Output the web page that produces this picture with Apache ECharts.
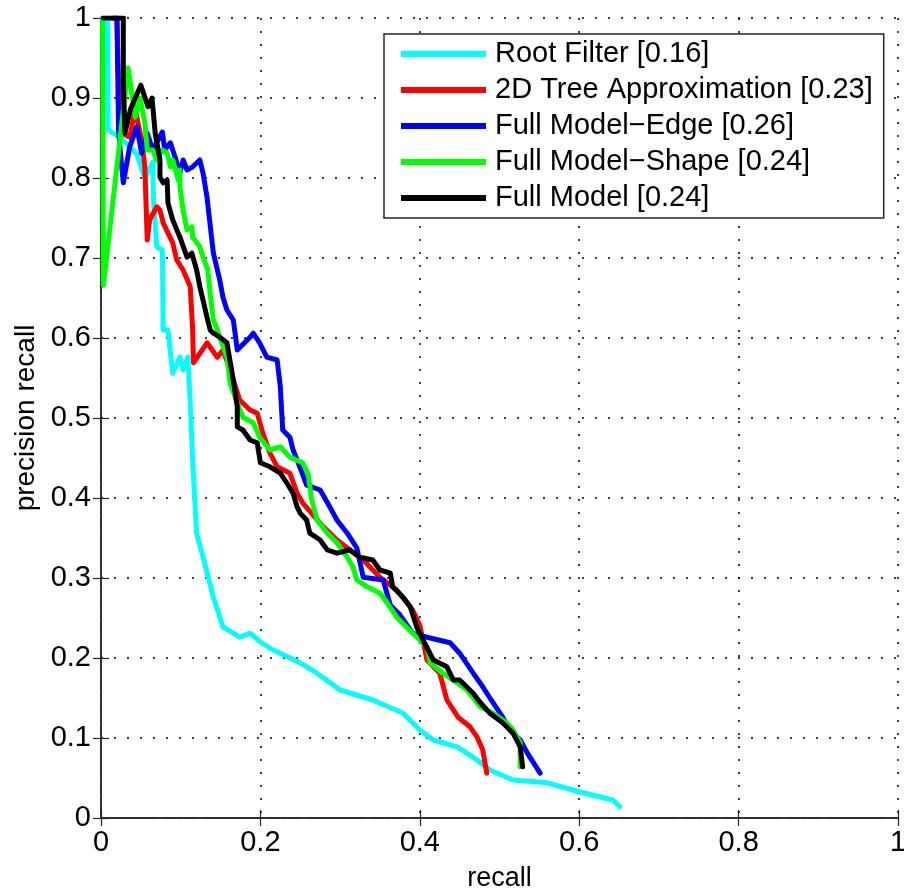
<!doctype html>
<html>
<head>
    <meta charset="UTF-8">
    <title>precision recall</title>
    <script src="https://cdn.jsdelivr.net/npm/echarts@6/dist/echarts.min.js"></script>
    <style>
        html, body { margin: 0; padding: 0; background: #fff; }
        #chart { width: 904px; height: 893px; }
    </style>
</head>
<body>
<div id="chart"></div>
<script type="text/javascript">
    // series names, as in the legend
    var seriesNames = ['Root Filter [0.16]', '2D Tree Approximation [0.23]', 'Full Model\u2212Edge [0.26]', 'Full Model\u2212Shape [0.24]', 'Full Model [0.24]'];
    var seriesColors = ['#00ffff', '#ff0000', '#0000ff', '#00ff00', '#000000'];
    var tickValues = [0, 0.1, 0.2, 0.3, 0.4, 0.5, 0.6, 0.7, 0.8, 0.9, 1];

    // [recall, precision] pairs
    var rootFilter = [[0.008,1.0],[0.009,0.86],[0.025,0.85],[0.045,0.83],[0.055,0.80],[0.065,0.82],[0.066,0.77],[0.070,0.714],[0.077,0.71],[0.078,0.61],[0.084,0.61],[0.090,0.556],[0.099,0.576],[0.103,0.56],[0.109,0.576],[0.112,0.519],[0.115,0.4475],[0.120,0.356],[0.130,0.319],[0.141,0.276],[0.153,0.239],[0.174,0.226],[0.187,0.231],[0.2,0.22],[0.216,0.21],[0.25,0.194],[0.271,0.181],[0.3,0.16],[0.341,0.1475],[0.379,0.131],[0.4,0.11],[0.417,0.0975],[0.447,0.089],[0.472,0.0725],[0.488,0.06],[0.517,0.0475],[0.56,0.044],[0.601,0.0325],[0.642,0.0225],[0.651,0.014]];

    var treeApprox = [[0.02,1.0],[0.022,0.92],[0.030,0.854],[0.036,0.851],[0.043,0.885],[0.051,0.8475],[0.055,0.814],[0.058,0.7225],[0.061,0.7475],[0.070,0.764],[0.074,0.76],[0.078,0.744],[0.090,0.719],[0.095,0.6975],[0.103,0.685],[0.112,0.664],[0.115,0.61],[0.116,0.569],[0.133,0.594],[0.146,0.576],[0.153,0.585],[0.162,0.56],[0.174,0.5225],[0.187,0.51],[0.196,0.506],[0.203,0.481],[0.212,0.456],[0.221,0.439],[0.237,0.431],[0.246,0.406],[0.253,0.394],[0.279,0.364],[0.296,0.3475],[0.329,0.3225],[0.350,0.301],[0.371,0.285],[0.391,0.26],[0.400,0.241],[0.409,0.1975],[0.425,0.181],[0.434,0.1475],[0.448,0.126],[0.463,0.114],[0.472,0.101],[0.479,0.085],[0.484,0.056]];

    var modelEdge = [[0.014,1.0],[0.020,1.0],[0.022,0.86],[0.024,0.835],[0.028,0.794],[0.036,0.839],[0.045,0.864],[0.051,0.831],[0.058,0.856],[0.065,0.835],[0.077,0.8575],[0.080,0.835],[0.087,0.844],[0.093,0.826],[0.099,0.806],[0.103,0.8225],[0.108,0.81],[0.115,0.814],[0.124,0.8225],[0.128,0.806],[0.133,0.776],[0.141,0.706],[0.149,0.6725],[0.153,0.651],[0.158,0.635],[0.166,0.6225],[0.171,0.585],[0.187,0.601],[0.191,0.606],[0.199,0.594],[0.208,0.576],[0.221,0.5725],[0.225,0.539],[0.228,0.485],[0.237,0.476],[0.241,0.46],[0.250,0.4375],[0.258,0.416],[0.275,0.41],[0.287,0.389],[0.296,0.3725],[0.309,0.356],[0.321,0.3375],[0.329,0.301],[0.354,0.2975],[0.363,0.266],[0.375,0.254],[0.391,0.231],[0.409,0.226],[0.438,0.219],[0.450,0.206],[0.467,0.181],[0.479,0.164],[0.488,0.15],[0.504,0.126],[0.513,0.11],[0.526,0.0975],[0.535,0.081],[0.551,0.056]];

    var modelShape = [[0.002,1.0],[0.003,0.666],[0.034,0.9375],[0.043,0.876],[0.049,0.9],[0.055,0.869],[0.058,0.835],[0.065,0.835],[0.070,0.8225],[0.077,0.835],[0.083,0.831],[0.087,0.814],[0.090,0.8225],[0.097,0.7975],[0.099,0.81],[0.099,0.789],[0.103,0.76],[0.108,0.735],[0.114,0.739],[0.115,0.726],[0.124,0.714],[0.128,0.701],[0.134,0.685],[0.137,0.655],[0.141,0.6225],[0.146,0.61],[0.149,0.601],[0.158,0.576],[0.162,0.544],[0.171,0.519],[0.178,0.501],[0.191,0.494],[0.199,0.476],[0.212,0.46],[0.225,0.464],[0.237,0.451],[0.253,0.444],[0.260,0.43],[0.264,0.40],[0.271,0.3725],[0.284,0.356],[0.296,0.344],[0.309,0.326],[0.316,0.314],[0.321,0.2975],[0.334,0.289],[0.350,0.281],[0.359,0.269],[0.371,0.251],[0.391,0.231],[0.409,0.214],[0.413,0.194],[0.429,0.181],[0.447,0.169],[0.459,0.16],[0.476,0.139],[0.492,0.131],[0.509,0.119],[0.517,0.11],[0.526,0.094],[0.526,0.064]];

    var fullModel = [[0.003,1.0],[0.028,1.0],[0.028,0.92],[0.030,0.856],[0.037,0.886],[0.050,0.916],[0.059,0.889],[0.064,0.9],[0.068,0.856],[0.074,0.8225],[0.074,0.801],[0.078,0.794],[0.083,0.7975],[0.084,0.769],[0.090,0.7475],[0.099,0.726],[0.108,0.701],[0.114,0.706],[0.120,0.685],[0.124,0.664],[0.128,0.6475],[0.133,0.626],[0.137,0.61],[0.141,0.606],[0.149,0.601],[0.158,0.594],[0.166,0.5475],[0.171,0.514],[0.171,0.489],[0.178,0.485],[0.187,0.4725],[0.196,0.469],[0.2,0.444],[0.212,0.439],[0.225,0.431],[0.233,0.419],[0.241,0.406],[0.246,0.389],[0.250,0.381],[0.258,0.3725],[0.262,0.356],[0.275,0.3475],[0.284,0.335],[0.296,0.331],[0.312,0.335],[0.325,0.326],[0.341,0.3225],[0.350,0.31],[0.363,0.306],[0.366,0.289],[0.379,0.276],[0.388,0.264],[0.396,0.239],[0.404,0.2225],[0.417,0.1975],[0.434,0.189],[0.442,0.1725],[0.450,0.1725],[0.467,0.156],[0.476,0.144],[0.488,0.131],[0.504,0.119],[0.517,0.106],[0.526,0.089],[0.529,0.064]];

    var seriesData = [rootFilter, treeApprox, modelEdge, modelShape, fullModel];

    var fontName = '"Liberation Sans", Arial, sans-serif';
    var boxLine = { show: true, lineStyle: { color: '#262626', width: 1.5 } };
    var inTick = { show: true, inside: true, length: 8, lineStyle: { color: '#262626', width: 1.2 } };
    var dotGrid = { show: true, lineStyle: { color: '#000', width: 1.5, type: [2, 11] } };

    function tickFmt(v) {
        // matlab style: 0, 0.1 ... 1
        return String(Math.round(v * 10) / 10);
    }

    var myChart = echarts.init(document.getElementById('chart'));
    var series = [];
    for (var i = 0; i < seriesData.length; i++) {
        series.push({
            name: seriesNames[i],
            type: 'line',
            data: seriesData[i],
            showSymbol: false,
            symbol: 'none',
            lineStyle: { color: seriesColors[i], width: 5, join: 'round', cap: 'round' },
            itemStyle: { color: seriesColors[i] },
            z: 2 + i,
            silent: true
        });
    }

    var option = {
        animation: false,
        backgroundColor: '#fff',
        grid: { left: 101, right: 6, top: 18, bottom: 75, containLabel: false, outerBoundsMode: 'none' },
        legend: {
            orient: 'vertical',
            left: 384,
            top: 34,
            padding: [5, 11, 5, 17],
            itemGap: 6,
            itemWidth: 85,
            itemHeight: 6,
            icon: 'rect',
            selectedMode: false,
            backgroundColor: '#fff',
            borderColor: '#262626',
            borderWidth: 1.5,
            borderRadius: 0,
            data: seriesNames,
            textStyle: { fontFamily: fontName, fontSize: 29, color: '#000', lineHeight: 30, padding: [0, 0, 0, 4] }
        },
        xAxis: [{
            type: 'value',
            min: 0, max: 1, interval: 0.2,
            name: 'recall',
            nameLocation: 'middle',
            nameGap: 47,
            nameTextStyle: { fontFamily: fontName, fontSize: 27, color: '#000' },
            axisLine: boxLine,
            axisTick: inTick,
            axisLabel: { fontFamily: fontName, fontSize: 29, color: '#000', margin: 10, formatter: tickFmt },
            splitLine: dotGrid
        }, {
            type: 'value',
            position: 'top',
            min: 0, max: 1, interval: 0.2,
            axisLine: boxLine,
            axisTick: inTick,
            axisLabel: { show: false },
            splitLine: { show: false }
        }],
        yAxis: [{
            type: 'value',
            min: 0, max: 1, interval: 0.1,
            name: 'precision recall',
            nameLocation: 'middle',
            nameGap: 60,
            nameTextStyle: { fontFamily: fontName, fontSize: 28, color: '#000' },
            axisLine: boxLine,
            axisTick: inTick,
            axisLabel: { fontFamily: fontName, fontSize: 29, color: '#000', margin: 10, formatter: tickFmt },
            splitLine: dotGrid
        }, {
            type: 'value',
            position: 'right',
            min: 0, max: 1, interval: 0.1,
            axisLine: boxLine,
            axisTick: inTick,
            axisLabel: { show: false },
            splitLine: { show: false }
        }],
        series: series
    };
    myChart.setOption(option, true);
</script>
</body>
</html>
